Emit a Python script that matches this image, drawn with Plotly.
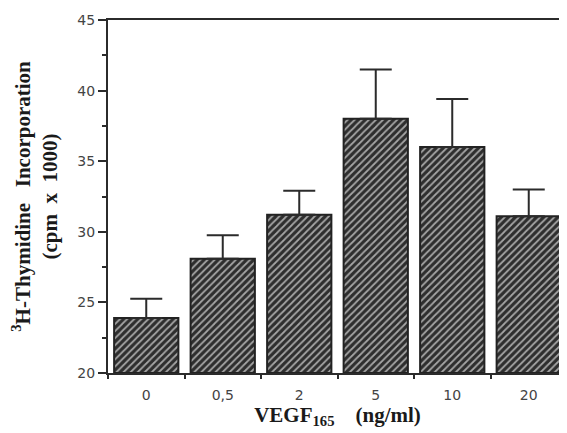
import plotly.graph_objects as go

categories = ["0", "0,5", "2", "5", "10", "20"]
means = [23.9, 28.1, 31.2, 38.0, 36.0, 31.1]
sem = [1.35, 1.65, 1.7, 3.5, 3.4, 1.9]
y_ticks = [20, 25, 30, 35, 40, 45]

positions = list(range(len(categories)))
line_col = "#2b2b2b"
tick_font = dict(family="DejaVu Sans, Arial", size=14, color="#444")

fig = go.Figure()
fig.add_trace(go.Bar(
    x=positions,
    y=[m - 20 for m in means],
    base=20,
    width=0.84,
    marker=dict(
        color="#2e2e2e",
        line=dict(color="#222222", width=2),
        pattern=dict(shape="/", fgcolor="#a5a5a5", bgcolor="#2e2e2e",
                     fillmode="replace", size=5, solidity=0.35),
    ),
    error_y=dict(type="data", array=sem, arrayminus=[0] * len(sem),
                 symmetric=False, color=line_col, thickness=2, width=16),
    showlegend=False,
))

fig.update_layout(
    width=559, height=425,
    margin=dict(l=100, r=0, t=12, b=60),
    plot_bgcolor="white", paper_bgcolor="white",
    xaxis=dict(
        range=[-0.5, 5.5], automargin=False,
        tickmode="array", tickvals=positions, ticktext=categories,
        ticks="", showgrid=False, zeroline=False,
        showline=True, linecolor=line_col, linewidth=2, mirror=True,
        tickfont=tick_font,
        ticklabelstandoff=8,
        minor=dict(tickmode="linear", tick0=0.5, dtick=1, ticks="outside",
                   ticklen=4, tickcolor=line_col, tickwidth=2, showgrid=False),
        title=dict(text="VEGF<sub>165</sub>    (ng/ml)", standoff=4,
                   font=dict(family="Liberation Serif, Times New Roman", size=21,
                             color="#1a1a1a", weight="bold")),
    ),
    yaxis=dict(
        range=[20, 45], automargin=False,
        tickmode="array", tickvals=y_ticks,
        ticks="outside", ticklen=8, tickwidth=2, tickcolor=line_col,
        showgrid=False, zeroline=False,
        showline=True, linecolor=line_col, linewidth=2,
        tickfont=tick_font,
        minor=dict(tickmode="linear", tick0=22.5, dtick=5, ticks="outside",
                   ticklen=4, tickcolor=line_col, tickwidth=2, showgrid=False),
        title=dict(text="<sup>3</sup>H-Thymidine   Incorporation<br>(cpm  x  1000)",
                   standoff=20,
                   font=dict(family="Liberation Serif, Times New Roman", size=21,
                             color="#1a1a1a", weight="bold")),
    ),
)

fig.write_html("out.html")
